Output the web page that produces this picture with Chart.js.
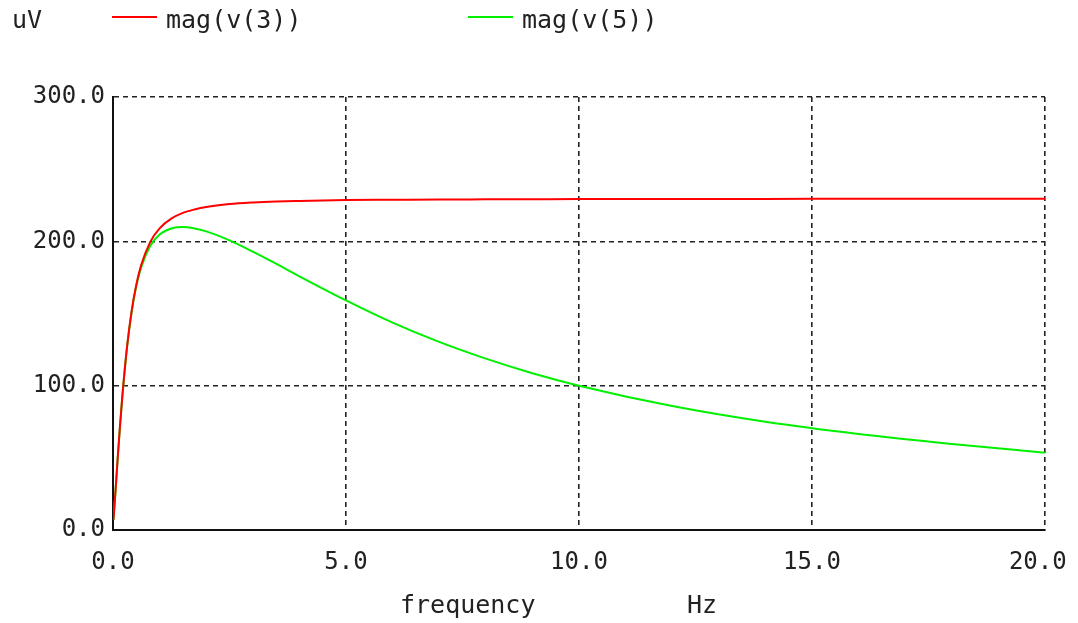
<!DOCTYPE html>
<html>
<head>
<meta charset="utf-8">
<script src="https://cdn.jsdelivr.net/npm/chart.js@4.4.1/dist/chart.umd.min.js"></script>
<style>
  html, body { margin: 0; padding: 0; background: #fff; }
  #wrap { position: relative; width: 1078px; height: 623px; }
</style>
</head>
<body>
<div id="wrap"><canvas id="c" width="1078" height="623"></canvas></div>
<script>
// ---- data ----
const unitLabel = "uV";
const xTitle = "frequency";
const xUnit = "Hz";
const seriesNames = ["mag(v(3))", "mag(v(5))"];
const freqs = [0.01, 0.05, 0.1, 0.15, 0.2, 0.3, 0.4, 0.5, 0.6, 0.8, 1.0, 1.25, 1.5, 1.75, 2.0, 2.5, 3.0, 3.5, 4.0, 5.0, 6.0, 7.0, 8.0, 9.0, 10.0, 12.0, 14.0, 16.0, 18.0, 20.0];
const magV3 = [7.0, 25.1, 49.4, 72.0, 92.5, 126.5, 151.7, 169.9, 183.0, 199.6, 209.0, 215.7, 219.7, 222.1, 223.8, 225.8, 226.9, 227.6, 228.0, 228.6, 228.8, 229.0, 229.1, 229.2, 229.3, 229.4, 229.4, 229.5, 229.5, 229.5];
const magV5 = [7.0, 25.1, 49.4, 72.0, 92.4, 126.3, 151.2, 169.0, 181.6, 196.9, 204.7, 208.9, 209.9, 208.9, 206.9, 200.7, 192.9, 184.5, 175.8, 159.1, 143.7, 130.3, 118.7, 108.6, 100.0, 85.9, 75.0, 66.5, 59.6, 53.6];
const xTicks = [0, 5, 10, 15, 20];
const yTicks = [0, 100, 200, 300];

const FONT = "'DejaVu Sans Mono', 'Liberation Mono', monospace";
const colors = ["#ff0000", "#00f000"];

const overlay = {
  id: 'overlay',
  afterDraw(chart) {
    const ctx = chart.ctx;
    ctx.save();
    ctx.fillStyle = '#222';
    ctx.font = "25px " + FONT;
    ctx.textBaseline = 'alphabetic';
    ctx.textAlign = 'left';
    ctx.fillText(unitLabel, 12, 28);
    const items = [{x0: 112, x1: 157, tx: 166}, {x0: 468, x1: 513, tx: 522}];
    items.forEach((it, i) => {
      ctx.strokeStyle = colors[i];
      ctx.lineWidth = 2;
      ctx.beginPath();
      ctx.moveTo(it.x0, 17);
      ctx.lineTo(it.x1, 17);
      ctx.stroke();
      ctx.fillStyle = '#222';
      ctx.fillText(seriesNames[i], it.tx, 28);
    });
    ctx.fillText(xTitle, 400, 613);
    ctx.fillText(xUnit, 687, 613);
    ctx.restore();
  }
};

const gridColor = (ctx) => (ctx.tick && ctx.tick.value === 0) ? 'rgba(0,0,0,0)' : '#222';

new Chart(document.getElementById('c'), {
  type: 'line',
  data: {
    datasets: [
      { label: seriesNames[0], data: freqs.map((f, i) => ({x: f, y: magV3[i]})), borderColor: colors[0], borderWidth: 2, pointRadius: 0, cubicInterpolationMode: 'monotone', fill: false },
      { label: seriesNames[1], data: freqs.map((f, i) => ({x: f, y: magV5[i]})), borderColor: colors[1], borderWidth: 2, pointRadius: 0, cubicInterpolationMode: 'monotone', fill: false }
    ]
  },
  options: {
    responsive: false,
    animation: false,
    events: [],
    layout: { padding: { top: 97, right: 33, bottom: 0, left: 0 } },
    plugins: { legend: { display: false }, tooltip: { enabled: false }, title: { display: false } },
    scales: {
      x: {
        type: 'linear', min: 0, max: 20,
        afterBuildTicks: (s) => { s.ticks = xTicks.map(v => ({value: v})); },
        afterFit: (s) => { s.height = 93; s.paddingLeft = 0; s.paddingRight = 0; },
        ticks: { color: '#222', font: { family: FONT, size: 24 }, padding: 18, maxRotation: 0, autoSkip: false,
                 callback: (v, i, arr) => Number(v).toFixed(1) + (i === arr.length - 1 ? ' ' : '') },
        grid: { drawTicks: false, lineWidth: 1.6, color: gridColor },
        border: { display: true, color: '#111', width: 2, dash: [5, 4] }
      },
      y: {
        type: 'linear', min: 0, max: 300,
        afterBuildTicks: (s) => { s.ticks = yTicks.map(v => ({value: v})); },
        afterFit: (s) => { s.width = 113; s.paddingTop = 0; s.paddingBottom = 0; },
        ticks: { color: '#222', font: { family: FONT, size: 24 }, padding: 8, autoSkip: false, callback: (v) => Number(v).toFixed(1) },
        grid: { drawTicks: false, lineWidth: 1.6, color: gridColor },
        border: { display: true, color: '#111', width: 2, dash: [5, 4] }
      }
    }
  },
  plugins: [overlay]
});
</script>
</body>
</html>
